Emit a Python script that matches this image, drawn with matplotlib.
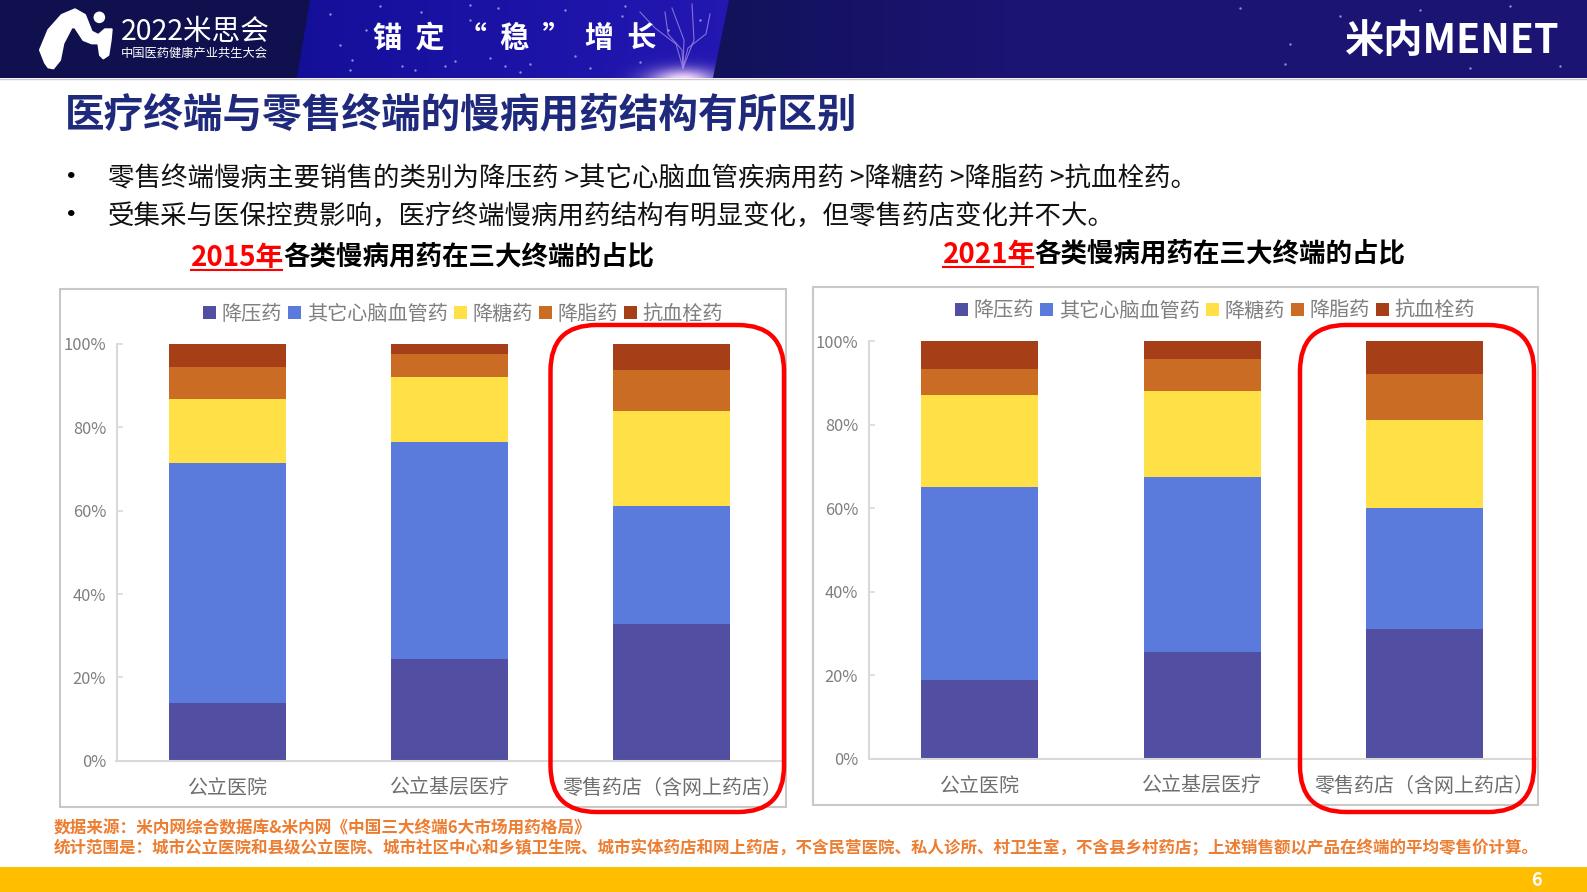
import numpy as np
import matplotlib
matplotlib.use("Agg")
import matplotlib.pyplot as plt
from matplotlib.patches import Rectangle, Polygon, FancyBboxPatch, Circle

plt.rcParams['font.family'] = ['Noto Sans CJK SC', 'DejaVu Sans']

categories = ['公立医院', '公立基层医疗', '零售药店（含网上药店）']
series_names = ['降压药', '其它心脑血管药', '降糖药', '降脂药', '抗血栓药']
series_colors = ['#524EA1', '#5B7BDC', '#FFE047', '#CB6C24', '#A63F18']
y_ticks = [0, 0.2, 0.4, 0.6, 0.8, 1.0]
y_tick_labels = ['0%', '20%', '40%', '60%', '80%', '100%']

# segment shares (%)
y2015_jiangya = [13.9, 24.3, 32.8]
y2015_qita = [57.6, 52.3, 28.3]
y2015_jiangtang = [15.4, 15.6, 22.8]
y2015_jiangzhi = [7.5, 5.4, 9.8]
y2015_kangxueshuan = [5.6, 2.4, 6.3]

y2021_jiangya = [18.8, 25.6, 31.0]
y2021_qita = [46.2, 41.8, 29.1]
y2021_jiangtang = [22.1, 20.7, 20.9]
y2021_jiangzhi = [6.1, 7.5, 11.2]
y2021_kangxueshuan = [6.8, 4.4, 7.8]

W, H = 1587, 892
fig = plt.figure(figsize=(W / 100, H / 100), dpi=100, facecolor='white')


def full_axes(z):
    a = fig.add_axes([0, 0, 1, 1], zorder=z)
    a.set_xlim(0, W)
    a.set_ylim(H, 0)
    a.axis('off')
    a.patch.set_alpha(0)
    return a


bg = full_axes(0)
fg = full_axes(10)

# ---------- header ----------
right_grad = np.zeros((1, 300, 3))
for i, (a, b) in enumerate(zip((0.067, 0.071, 0.35), (0.106, 0.078, 0.447))):
    right_grad[..., i] = a + (b - a) * np.arange(300) / 299.0
bg.add_patch(Rectangle((0, 0), W, 78, fc='#1B1472', ec='none'))
bg.imshow(right_grad, extent=(705, 1005, 78, 0), aspect='auto', zorder=1)
bg.add_patch(Polygon([(0, 0), (312, 0), (298, 78), (0, 78)], fc='#10104F', ec='none', zorder=1.5))
yy, xx = np.mgrid[0:78, 295:735]
glow = np.exp(-(((xx - 683) / 34.0) ** 2 + ((yy - 80) / 12.0) ** 2))
grad = (xx - 295) / 440.0
panel = np.zeros(xx.shape + (3,))
c0 = np.array([0.08, 0.06, 0.60])
c1 = np.array([0.14, 0.09, 0.70])
for i in range(3):
    panel[..., i] = c0[i] + (c1[i] - c0[i]) * grad
panel = panel + glow[..., None] * (np.array([1.0, 0.88, 1.0]) - panel)
im = bg.imshow(panel[::-1], extent=(295, 735, 78, 0), aspect='auto', zorder=2, origin='lower')
clip = Polygon([(310, 0), (729, 0), (713, 78), (297, 78)], transform=bg.transData, fc='none', ec='none')
bg.add_patch(clip)
im.set_clip_path(clip)
bg.set_xlim(0, W)
bg.set_ylim(H, 0)
star_x = [330, 352, 366, 402, 421, 455, 470, 498, 530, 565, 590, 622, 640, 668, 700, 1240, 1290, 1340, 1420, 1510, 1560, 1285, 1470,
          340, 380, 415, 445, 490, 520, 545, 575, 605, 625, 505, 470, 350]
star_y = [14, 60, 30, 66, 12, 61, 20, 8, 64, 10, 68, 16, 62, 30, 20, 8, 44, 16, 10, 6, 66, 64, 68,
          45, 6, 70, 66, 58, 72, 24, 56, 40, 6, 66, 5, 70]
bg.scatter(star_x, star_y, s=3, c='#8F90E0', linewidths=0, zorder=3)
# tree-like decoration
for pts in ([(683, 68), (682, 50), (668, 34), (665, 12)], [(683, 68), (688, 48), (706, 34), (710, 14)],
            [(683, 68), (684, 40), (672, 8)], [(683, 68), (694, 40), (692, 4)],
            [(683, 68), (676, 44), (655, 28), (640, 12)]):
    p = np.array(pts)
    bg.plot(p[:, 0], p[:, 1], color='#A58CEB', lw=0.8, alpha=0.75, zorder=3)
bg.plot([0, W], [78.5, 78.5], color='#C9C9D6', lw=1, zorder=3)

# logo
logo_crop = np.array([(75, 188), (60, 150), (85, 90), (125, 45), (165, 28), (195, 45), (215, 95), (235, 105),
                      (255, 88), (275, 88), (272, 120), (265, 165), (250, 175), (240, 165), (235, 130), (215, 130),
                      (190, 120), (165, 82), (155, 82), (130, 130), (120, 180), (100, 205), (85, 202)])
logo_px = logo_crop / 3.0 + np.array([20, 0])
bg.add_patch(Polygon(logo_px, fc='white', ec='white', lw=1.5, joinstyle='round', zorder=4))
bg.add_patch(Circle((20 + 238 / 3.0, 52 / 3.0), 5.8, fc='white', ec='none', zorder=4))
bg.text(120.5, 32, '2022米思会', color='white', fontsize=20.6, va='center', ha='left', zorder=5)
bg.text(120.5, 53.5, '中国医药健康产业共生大会', color='white', fontsize=8.8, va='center', ha='left', zorder=5)
bg.text(373, 38, '锚  定  “  稳  ”  增  长', color='white', fontsize=21, fontweight='bold', va='center', ha='left', zorder=5)
bg.text(1344, 41, '米内MENET', color='white', fontsize=28.3, fontweight='bold', va='center', ha='left', zorder=5)

# ---------- titles ----------
bg.text(65, 115, '医疗终端与零售终端的慢病用药结构有所区别', color='#1F2A7C', fontsize=28.5,
        fontweight='bold', va='center', ha='left')
bg.text(71, 178, '•', color='black', fontsize=22, va='center', ha='center')
bg.text(71, 216, '•', color='black', fontsize=22, va='center', ha='center')
bg.text(108, 179, '零售终端慢病主要销售的类别为降压药 >其它心脑血管疾病用药 >降糖药 >降脂药 >抗血栓药。',
        color='#111111', fontsize=19.07, va='center', ha='left')
bg.text(108, 216, '受集采与医保控费影响，医疗终端慢病用药结构有明显变化，但零售药店变化并不大。',
        color='#111111', fontsize=19.07, va='center', ha='left')

for yr, x0, x1, yc in (('2015年', 191, 283, 258), ('2021年', 943, 1034, 255)):
    bg.text(x0, yc, yr, color='#FF0000', fontsize=20, fontweight='bold', va='center', ha='left')
    bg.text(x1, yc, '各类慢病用药在三大终端的占比', color='black', fontsize=19.1, fontweight='bold', va='center', ha='left')
    bg.plot([x0, x1 - 1], [yc + 12, yc + 12], color='#FF0000', lw=1.5)

# ---------- chart frames ----------
bg.add_patch(Rectangle((60, 289), 726, 518, fc='white', ec='#C8C8C8', lw=1.5))
bg.add_patch(Rectangle((812.5, 286.5), 725, 518, fc='white', ec='#C8C8C8', lw=1.5))


def draw_chart(left, right, top, base, seriess, legend_xy):
    ax = fig.add_axes([left / W, 1 - base / H, (right - left) / W, (base - top) / H], zorder=5)
    ax.patch.set_alpha(0)
    x = np.arange(len(categories))
    bottom = np.zeros(len(categories))
    for vals, name, col in zip(seriess, series_names, series_colors):
        v = np.array(vals) / 100.0
        ax.bar(x, v, 0.527, bottom=bottom, color=col, label=name, linewidth=0)
        bottom = bottom + v
    ax.set_xlim(-0.5, 2.5)
    ax.set_ylim(0, 1)
    ax.set_yticks(y_ticks)
    ax.set_yticklabels(y_tick_labels, fontsize=11.8, color='#7F7F7F')
    ax.set_xticks(x)
    ax.set_xticklabels(categories, fontsize=14.4, color='#6E6E6E')
    ax.tick_params(axis='x', length=0, pad=12.6)
    ax.tick_params(axis='y', direction='in', length=4.3, width=1.2, color='#D9D9D9', pad=7.5)
    for s in ('top', 'right'):
        ax.spines[s].set_visible(False)
    for s in ('left', 'bottom'):
        ax.spines[s].set_color('#D9D9D9')
        ax.spines[s].set_linewidth(1.5)
    ax.legend(loc='center', bbox_to_anchor=legend_xy, bbox_transform=fg.transData, ncol=5, frameon=False,
              fontsize=14.5, labelcolor='#7F7F7F', handlelength=0.65, handleheight=0.65,
              handletextpad=0.27, columnspacing=0.3, borderpad=0, borderaxespad=0)
    return ax


draw_chart(116.5, 783, 344, 760.7,
           [y2015_jiangya, y2015_qita, y2015_jiangtang, y2015_jiangzhi, y2015_kangxueshuan], (463, 314))
draw_chart(868.5, 1536, 341, 758.7,
           [y2021_jiangya, y2021_qita, y2021_jiangtang, y2021_jiangzhi, y2021_kangxueshuan], (1215, 311))

# ---------- red highlight boxes ----------
for x0, x1 in ((550.5, 784), (1300, 1534)):
    fg.add_patch(FancyBboxPatch((x0 + 46, 325 + 46), x1 - x0 - 92, 487 - 92,
                                boxstyle='round,pad=46', fc='none', ec='#FF0000', lw=3.2))

# ---------- footer ----------
bg.text(54, 828, '数据来源：米内网综合数据库&米内网《中国三大终端6大市场用药格局》', color='#ED7D31',
        fontsize=12, fontweight='bold', va='center', ha='left')
bg.text(54, 848, '统计范围是：城市公立医院和县级公立医院、城市社区中心和乡镇卫生院、城市实体药店和网上药店，不含民营医院、私人诊所、村卫生室，不含县乡村药店；上述销售额以产品在终端的平均零售价计算。',
        color='#ED7D31', fontsize=11.9, fontweight='bold', va='center', ha='left')
bg.add_patch(Rectangle((0, 867), W, 25, fc='#FFBF00', ec='none'))
bg.text(1536, 880, '6', color='white', fontsize=13, fontweight='bold', va='center', ha='center')

fig.savefig('out.png', dpi=100)
